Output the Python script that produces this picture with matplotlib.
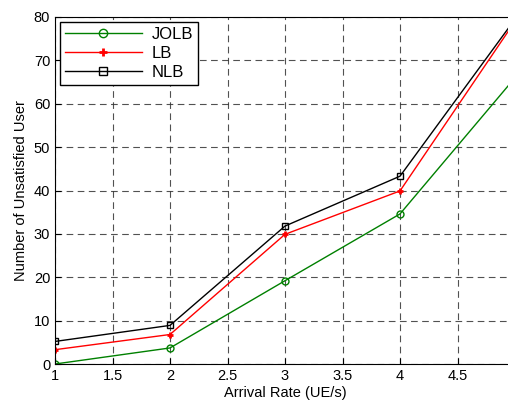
import matplotlib.pyplot as plt

plt.rcParams['font.family'] = ['Liberation Sans', 'DejaVu Sans']

# data
arrival_rate = [1, 2, 3, 4, 5]
jolb = [0, 3.7, 19.2, 34.6, 66]
lb = [3.3, 6.8, 29.9, 39.9, 79]
nlb = [5.2, 8.9, 31.8, 43.3, 79.5]
x_ticks = [1, 1.5, 2, 2.5, 3, 3.5, 4, 4.5]

fig = plt.figure(figsize=(5.08, 4.04), dpi=100)
# axes run past the right edge of the figure, like the cropped original
ax = fig.add_axes([55 / 508, 40 / 404, 460 / 508, 347 / 404])

ax.plot(arrival_rate, jolb, color='#008000', marker='o', markersize=5,
        markerfacecolor='none', linewidth=1, label='JOLB')
ax.plot(arrival_rate, lb, color='red', marker='+', markersize=5,
        markeredgewidth=2, linewidth=1, label='LB')
ax.plot(arrival_rate, nlb, color='black', marker='s', markersize=5,
        markerfacecolor='none', linewidth=1, label='NLB')

ax.set_xlim(1, 5)
ax.set_ylim(0, 80)
ax.set_xticks(x_ticks)
ax.set_xticklabels([f'{t:g}' for t in x_ticks])
ax.set_yticks(range(0, 81, 10))
ax.tick_params(direction='in', labelsize=10.5, length=4, width=0.8)
ax.grid(True, color='#333333', linestyle=(0, (6, 4)), linewidth=0.8, alpha=0.85)

ax.set_xlabel('Arrival Rate (UE/s)', fontsize=10.5, labelpad=2)
ax.set_ylabel('Number of Unsatisfied User', fontsize=10.5, labelpad=4)

leg = ax.legend(loc='upper left', fontsize=12, fancybox=False, framealpha=1,
                edgecolor='black', borderaxespad=0.3, handlelength=4.6,
                labelspacing=0.25, borderpad=0.3, handletextpad=0.6)
leg.get_frame().set_linewidth(1)
for line in leg.get_lines():
    line.set_markersize(6)

fig.savefig('out.png', dpi=100)
